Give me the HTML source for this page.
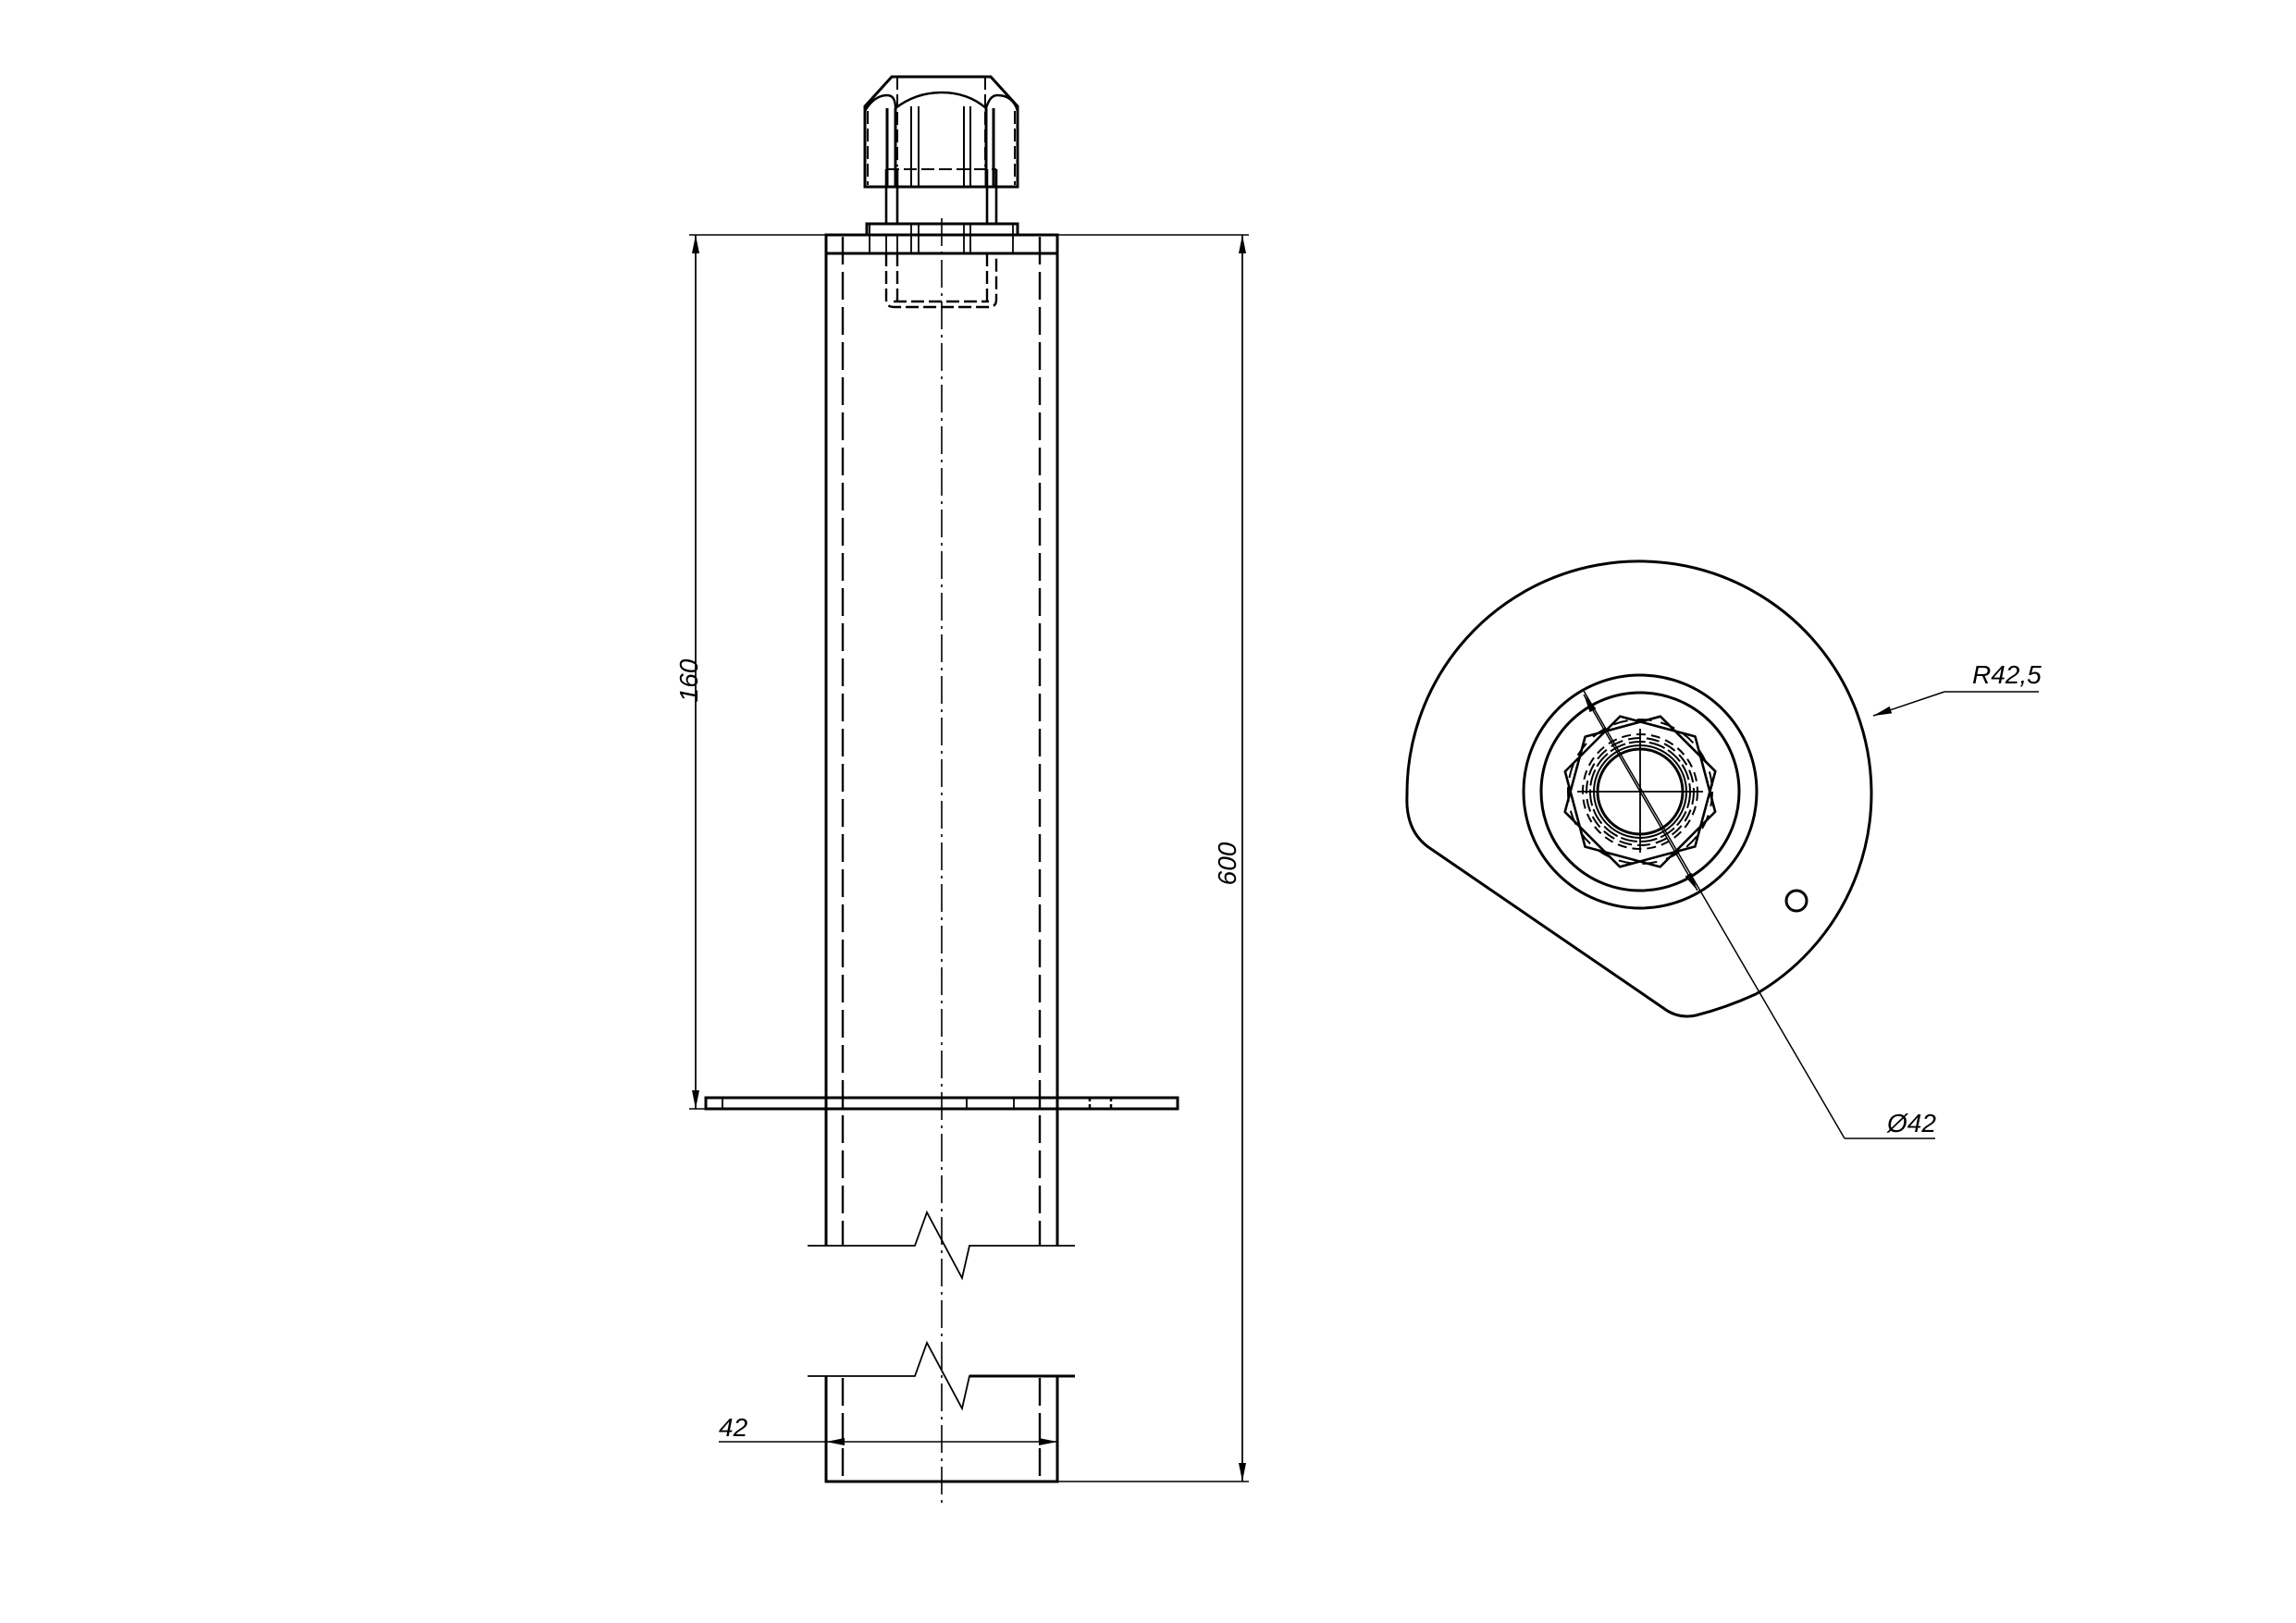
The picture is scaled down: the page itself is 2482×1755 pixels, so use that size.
<!DOCTYPE html>
<html><head><meta charset="utf-8"><style>html,body{margin:0;padding:0;background:#fff}svg{display:block}</style></head>
<body>
<svg width="2482" height="1755" viewBox="0 0 2482 1755" xmlns="http://www.w3.org/2000/svg">
<defs>
<marker id="ar" viewBox="0 0 20 8" refX="20" refY="4" markerWidth="20" markerHeight="8" markerUnits="userSpaceOnUse" orient="auto"><path d="M0 0 L20 4 L0 8 Z" fill="#000"/></marker>
</defs>
<rect width="2482" height="1755" fill="#fff"/>
<g fill="none" stroke="#000" stroke-linecap="butt">
<!-- centerline -->
<line x1="1018" y1="236" x2="1018" y2="1625" stroke-width="1.6" stroke-dasharray="30 6 3 6"/>
<!-- cap -->
<g stroke-width="3">
<path d="M964 83 L1071 83 L1100 115 L1100 202 L935 202 L935 115 Z"/>
<path d="M935 120 Q945 103 959 103 Q968 103 968 117 M968 117 Q990 100 1018 100 Q1046 100 1066 117 M1066 117 Q1070 103 1078 103 Q1095 103 1100 120" stroke-width="2.4"/>
<line x1="959" y1="117" x2="959" y2="202"/><line x1="968" y1="117" x2="968" y2="202"/>
<line x1="1066" y1="117" x2="1066" y2="202"/><line x1="1074" y1="117" x2="1074" y2="202"/>
<line x1="985" y1="115" x2="985" y2="202" stroke-width="2"/><line x1="993" y1="115" x2="993" y2="202" stroke-width="2"/>
<line x1="1042" y1="115" x2="1042" y2="202" stroke-width="2"/><line x1="1049" y1="115" x2="1049" y2="202" stroke-width="2"/>
</g>
<g stroke-width="2" stroke-dasharray="14 5">
<line x1="970" y1="83" x2="970" y2="180"/><line x1="1065" y1="83" x2="1065" y2="180"/>
<line x1="938" y1="120" x2="938" y2="200"/><line x1="1097" y1="120" x2="1097" y2="200"/>
<line x1="958" y1="183" x2="1077" y2="183"/>
</g>
<!-- stem -->
<g stroke-width="2.6">
<line x1="958" y1="183" x2="958" y2="242"/><line x1="970" y1="183" x2="970" y2="242"/>
<line x1="1067" y1="183" x2="1067" y2="242"/><line x1="1077" y1="183" x2="1077" y2="242"/>
</g>
<g stroke-width="2.4" stroke-dasharray="14 5">
<path d="M958 274 L958 324 Q958 332 966 332 L1069 332 Q1077 332 1077 324 L1077 274"/>
<line x1="970" y1="274" x2="970" y2="326"/><line x1="1067" y1="274" x2="1067" y2="326"/>
<line x1="966" y1="326" x2="1069" y2="326"/>
</g>
<!-- nut flange -->
<rect x="937" y="242" width="163" height="12" stroke-width="3"/>
<g stroke-width="1.8">
<line x1="940" y1="242" x2="940" y2="274"/><line x1="958" y1="254" x2="958" y2="274"/><line x1="970" y1="254" x2="970" y2="274"/>
<line x1="985" y1="242" x2="985" y2="274"/><line x1="993" y1="242" x2="993" y2="274"/>
<line x1="1042" y1="242" x2="1042" y2="274"/><line x1="1049" y1="242" x2="1049" y2="274"/>
<line x1="1095" y1="242" x2="1095" y2="274"/>
</g>
<!-- tube -->
<g stroke-width="3">
<rect x="893" y="254" width="250" height="20"/>
<line x1="893" y1="274" x2="893" y2="1347"/><line x1="1143" y1="274" x2="1143" y2="1347"/>
<path d="M893 1488 L893 1602 L1143 1602 L1143 1488"/>
<rect x="763" y="1187" width="510" height="12"/>
</g>
<g stroke-width="1.8">
<line x1="781" y1="1187" x2="781" y2="1199"/><line x1="1045" y1="1187" x2="1045" y2="1199"/><line x1="1096" y1="1187" x2="1096" y2="1199"/>
<line x1="1178" y1="1187" x2="1178" y2="1199" stroke-width="2.5" stroke-dasharray="4 3"/><line x1="1201" y1="1187" x2="1201" y2="1199" stroke-width="2.5" stroke-dasharray="4 3"/>
</g>
<g stroke-width="2.4" stroke-dasharray="30 8">
<line x1="911" y1="256" x2="911" y2="1347"/><line x1="1124" y1="256" x2="1124" y2="1347"/>
<line x1="911" y1="1490" x2="911" y2="1602"/><line x1="1124" y1="1490" x2="1124" y2="1602"/>
</g>
<!-- breaks -->
<path d="M873 1347 L989 1347 L1002 1311 L1040 1382 L1048 1347 L1162 1347" stroke-width="1.8"/>
<path d="M873 1488 L989 1488 L1002 1452 L1040 1523 L1048 1488 L1162 1488" stroke-width="1.8"/>
<path d="M1048 1488 L1162 1488" stroke-width="3"/>
<!-- dimensions -->
<g stroke-width="1.5">
<line x1="745" y1="254" x2="893" y2="254"/><line x1="1143" y1="254" x2="1350" y2="254"/>
<line x1="745" y1="1199" x2="763" y2="1199"/><line x1="1143" y1="1602" x2="1350" y2="1602"/>
<line x1="752" y1="1199" x2="752" y2="254" marker-end="url(#ar)"/>
<line x1="752" y1="254" x2="752" y2="1199" marker-end="url(#ar)"/>
<line x1="1343" y1="1602" x2="1343" y2="254" marker-end="url(#ar)"/>
<line x1="1343" y1="254" x2="1343" y2="1602" marker-end="url(#ar)"/>
<line x1="777" y1="1559" x2="893" y2="1559"/>
<line x1="1018" y1="1559" x2="893" y2="1559" marker-end="url(#ar)"/>
<line x1="1018" y1="1559" x2="1143" y2="1559" marker-end="url(#ar)"/>
</g>
<!-- right view -->
<path d="M1898 1075 A251 251 0 1 0 1521 860 Q1519 900 1547 918 L1798 1090 Q1814 1102 1833 1098 Q1865 1090 1898 1075 Z" stroke-width="3"/>
<circle cx="1942" cy="974" r="11" stroke-width="3"/>
<circle cx="1773" cy="856" r="126" stroke-width="3"/>
<circle cx="1773" cy="856" r="107" stroke-width="3"/>
<circle cx="1773" cy="856" r="46" stroke-width="3"/>
<circle cx="1773" cy="856" r="50" stroke-width="2"/>
<circle cx="1773" cy="856" r="54" stroke-width="2" stroke-dasharray="18 4"/>
<circle cx="1773" cy="856" r="58" stroke-width="2" stroke-dasharray="14 6"/>
<circle cx="1773" cy="856" r="62" stroke-width="2" stroke-dasharray="10 6"/>
<polygon points="1857,856 1815,929 1731,929 1689,856 1731,783 1815,783" stroke-width="2.6" stroke-linejoin="round" transform="rotate(15 1773 856)"/>
<polygon points="1857,856 1815,929 1731,929 1689,856 1731,783 1815,783" stroke-width="2.6" stroke-linejoin="round" transform="rotate(45 1773 856)"/>
<circle cx="1773" cy="856" r="78" stroke-width="2" stroke-dasharray="16 10"/>
<g stroke-width="1.8">
<line x1="1705" y1="856" x2="1841" y2="856"/><line x1="1773" y1="788" x2="1773" y2="922"/>
</g>
<g stroke-width="1.5">
<line x1="1994" y1="1231" x2="1712" y2="747"/>
<line x1="1773" y1="856" x2="1712" y2="751" marker-end="url(#ar)"/>
<line x1="1773" y1="856" x2="1835" y2="963" marker-end="url(#ar)"/>
<line x1="1994" y1="1231" x2="2092" y2="1231"/>
<line x1="2204" y1="748" x2="2102" y2="748"/>
<line x1="2102" y1="748" x2="2025" y2="774" marker-end="url(#ar)"/>
</g>
</g>
<g font-family="'Liberation Sans', sans-serif" font-style="italic" font-size="28" fill="#000">
<text x="777" y="1553">42</text>
<text transform="translate(754 736) rotate(-90)" text-anchor="middle">160</text>
<text transform="translate(1336 934) rotate(-90)" text-anchor="middle">600</text>
<text x="2132" y="739">R42,5</text>
<text x="2040" y="1224">Ø42</text>
</g>
</svg>
</body></html>
